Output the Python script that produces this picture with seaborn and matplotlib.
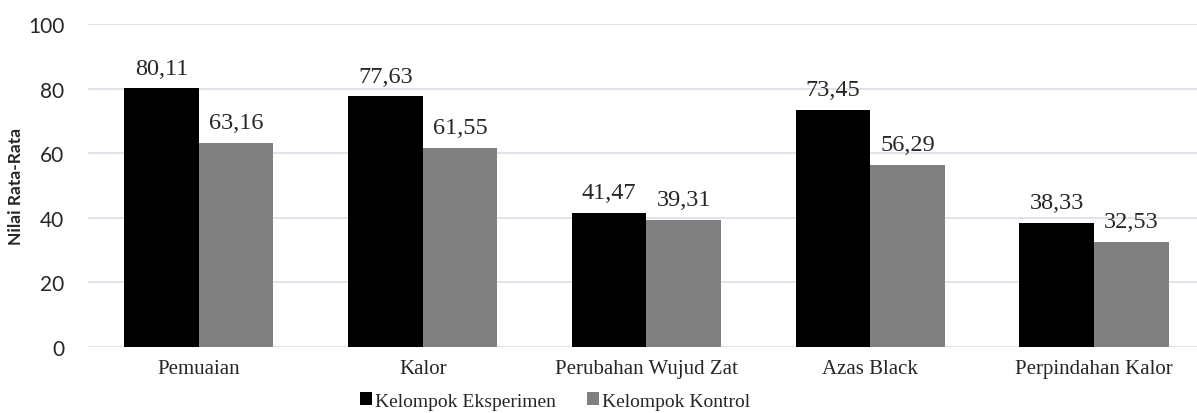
import numpy as np
import pandas as pd
import seaborn as sns
import matplotlib.pyplot as plt
from matplotlib.patches import Patch

categories = ["Pemuaian", "Kalor", "Perubahan Wujud Zat", "Azas Black", "Perpindahan Kalor"]
groups = ["Kelompok Eksperimen", "Kelompok Kontrol"]
eksperimen = [80.11, 77.63, 41.47, 73.45, 38.33]
kontrol = [63.16, 61.55, 39.31, 56.29, 32.53]
colors = ["#000000", "#808080"]

df = pd.DataFrame({
    "Materi": categories * 2,
    "Kelompok": [groups[0]] * 5 + [groups[1]] * 5,
    "Nilai": eksperimen + kontrol,
})

sns.set_style("white")
serif = "Liberation Serif"
sans = "Lato"

fig = plt.figure(figsize=(11.97, 4.14), dpi=100)
ax = fig.add_axes([88 / 1197, 1 - 348 / 414, (1197 - 88) / 1197, (348 - 25) / 414])

sns.barplot(data=df, x="Materi", y="Nilai", hue="Kelompok", palette=colors,
            width=0.666, gap=0, saturation=1, ax=ax, legend=False,
            edgecolor="none")

# value labels
for cont in ax.containers:
    for bar in cont:
        h = bar.get_height()
        ax.annotate(f"{h:.2f}".replace(".", ","),
                    (bar.get_x() + bar.get_width() / 2, h),
                    xytext=(0, 7), textcoords="offset points",
                    ha="center", va="bottom", fontsize=17.5, family=serif)

ax.set_ylim(0, 100)
ax.set_yticks(np.arange(0, 101, 20))
ax.set_xlim(-0.496, (1197 - 199) / 223.75)
ax.grid(axis="y", color="#dde1e7", linewidth=1.3)
ax.set_axisbelow(True)
for s in ["top", "right", "left", "bottom"]:
    ax.spines[s].set_visible(False)

ax.tick_params(axis="y", length=0, pad=17)
ax.tick_params(axis="x", length=0, pad=9)
for t in ax.get_yticklabels():
    t.set_family(sans)
    t.set_fontsize(15)
for t in ax.get_xticklabels():
    t.set_family(serif)
    t.set_fontsize(15)

ax.set_xlabel("")
ax.set_ylabel("Nilai Rata-Rata", family=sans, fontweight="bold", fontsize=12.5, labelpad=3)

handles = [Patch(facecolor=c, edgecolor="none") for c in colors]
fig.legend(handles, groups, loc="center", bbox_to_anchor=(555 / 1197, 1 - 402 / 414),
           ncol=2, frameon=False, prop={"family": serif, "size": 14},
           handlelength=0.6, handleheight=0.6, handletextpad=0.15, columnspacing=1.6,
           borderaxespad=0, borderpad=0)

fig.savefig("out.png", dpi=100)
